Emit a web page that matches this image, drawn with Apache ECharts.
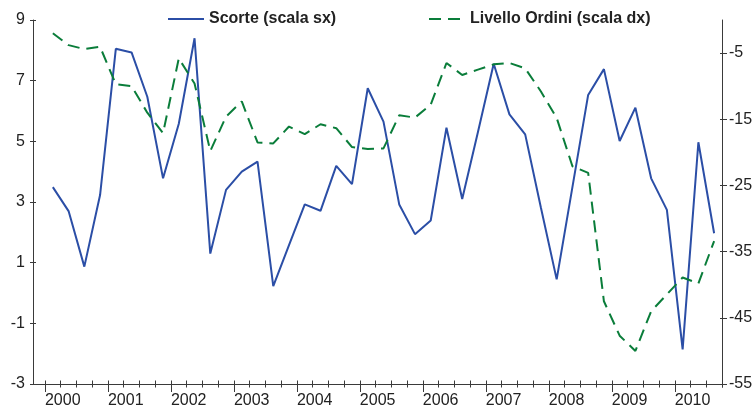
<!DOCTYPE html>
<html>
<head>
<meta charset="utf-8">
<script src="https://cdn.jsdelivr.net/npm/echarts@6/dist/echarts.min.js"></script>
<style>html,body{margin:0;padding:0;background:#fff}#c{width:754px;height:405px}</style>
</head>
<body>
<div id="c"></div>
<script>
const years = ['2000','2001','2002','2003','2004','2005','2006','2007','2008','2009','2010'];
const quartersPerYear = ['Q1','Q2','Q3','Q4'];
const nPoints = 43; // 2000Q1 .. 2010Q3
const periods = [];
years.forEach(y => quartersPerYear.forEach(q => periods.push(y + q)));
periods.length = nPoints;

const scorte = [3.49, 2.70, 0.87, 3.23, 8.05, 7.93, 6.47, 3.78, 5.58, 8.40,
  1.30, 3.40, 4.00, 4.33, 0.23, 1.58, 2.92, 2.71, 4.19, 3.59,
  6.75, 5.65, 2.92, 1.94, 2.39, 5.45, 3.10, 5.31, 7.56, 5.89,
  5.23, 2.81, 0.45, 3.49, 6.53, 7.38, 5.01, 6.11, 3.78, 2.74,
  -1.86, 4.97, 1.97];
const ordini = [-2.0, -3.8, -4.4, -4.05, -9.7, -10.0, -14.0, -17.1, -5.8, -9.6,
  -19.8, -14.6, -12.3, -18.5, -18.65, -16.1, -17.25, -15.75, -16.35, -19.2,
  -19.5, -19.4, -14.4, -14.75, -12.8, -6.5, -8.3, -7.5, -6.7, -6.5,
  -7.3, -10.8, -14.8, -22.1, -23.1, -42.5, -47.7, -50.0, -44.0, -41.45,
  -38.9, -39.8, -33.4];
const leftTicks = [-3, -1, 1, 3, 5, 7, 9];
const rightTicks = [-55, -45, -35, -25, -15, -5];

// x position of each period: middle of its quarter, in years
const periodX = periods.map(p => Number(p.slice(0, 4)) + (Number(p.slice(5)) - 0.5) / 4);
const yearTicks = years.map(Number);
const quarterTicks = [];
years.forEach(y => quartersPerYear.forEach((q, i) => quarterTicks.push(Number(y) + i / 4)));
quarterTicks.push(Number(years[years.length - 1]) + 0.75);

const nameS = 'Scorte (scala sx)';
const nameO = 'Livello Ordini (scala dx)';
const blue = '#2b4ea6';
const green = '#0a7d3a';
const axisCol = '#3a3a3a';
const font = 'Liberation Sans, Arial, sans-serif';

const xMin = 1999.81, xMax = 2010.75;
const baseX = {
  type: 'value', min: xMin, max: xMax, position: 'bottom',
  splitLine: { show: false }, axisLine: { onZero: false, show: false },
  axisLabel: { show: false }
};
const legendBase = { top: 11, padding: 0, itemWidth: 36, itemHeight: 14,
  itemStyle: { opacity: 0 },
  textStyle: { fontSize: 16, fontWeight: 'bold', color: '#222', fontFamily: font } };

const chart = echarts.init(document.getElementById('c'), null, { renderer: 'canvas' });
chart.setOption({
  animation: false,
  backgroundColor: '#fff',
  grid: { left: 33, right: 32, top: 20, bottom: 21, containLabel: false, outerBoundsMode: 'none' },
  legend: [
    Object.assign({ data: [nameS], left: 167 }, legendBase),
    Object.assign({ data: [nameO], left: 428 }, legendBase)
  ],
  xAxis: [
    Object.assign({}, baseX, {
      axisLine: { show: true, onZero: false, lineStyle: { color: axisCol, width: 1 } },
      axisTick: { show: true, length: 8, customValues: yearTicks, lineStyle: { color: axisCol } },
      axisLabel: { show: true, customValues: yearTicks, formatter: v => String(Math.round(v)),
        align: 'left', margin: 9, fontSize: 16, color: '#222', fontFamily: font }
    }),
    Object.assign({}, baseX, {
      axisTick: { show: true, length: 3.5, customValues: quarterTicks, lineStyle: { color: axisCol } }
    }),
    Object.assign({}, baseX, {
      axisTick: { show: true, inside: true, length: 3.5, customValues: quarterTicks, lineStyle: { color: axisCol } }
    })
  ],
  yAxis: [
    { type: 'value', position: 'left', min: -3, max: 9, splitLine: { show: false },
      axisLine: { show: true, onZero: false, lineStyle: { color: axisCol } },
      axisTick: { show: true, length: 3, customValues: leftTicks, lineStyle: { color: axisCol } },
      axisLabel: { customValues: leftTicks, margin: 8, fontSize: 16, color: '#222', fontFamily: font } },
    { type: 'value', position: 'right', min: -55, max: 0, splitLine: { show: false },
      axisLine: { show: true, onZero: false, lineStyle: { color: axisCol } },
      axisTick: { show: true, length: 5, customValues: rightTicks, lineStyle: { color: axisCol } },
      axisLabel: { customValues: rightTicks, margin: 7, fontSize: 16, color: '#222', fontFamily: font } },
    { type: 'value', position: 'left', min: -3, max: 9, splitLine: { show: false },
      axisLine: { show: false, onZero: false }, axisLabel: { show: false },
      axisTick: { show: true, inside: true, length: 3, customValues: leftTicks, lineStyle: { color: axisCol } } },
    { type: 'value', position: 'right', min: -55, max: 0, splitLine: { show: false },
      axisLine: { show: false, onZero: false }, axisLabel: { show: false },
      axisTick: { show: true, inside: true, length: 2, customValues: rightTicks, lineStyle: { color: axisCol } } }
  ],
  series: [
    { name: nameS, type: 'line', xAxisIndex: 0, yAxisIndex: 0, symbol: 'none',
      lineStyle: { color: blue, width: 2 }, itemStyle: { color: blue },
      data: scorte.map((v, i) => [periodX[i], v]) },
    { name: nameO, type: 'line', xAxisIndex: 0, yAxisIndex: 1, symbol: 'none',
      lineStyle: { color: green, width: 2, type: [12, 7] }, itemStyle: { color: green },
      data: ordini.map((v, i) => [periodX[i], v]) }
  ]
});
</script>
</body>
</html>
